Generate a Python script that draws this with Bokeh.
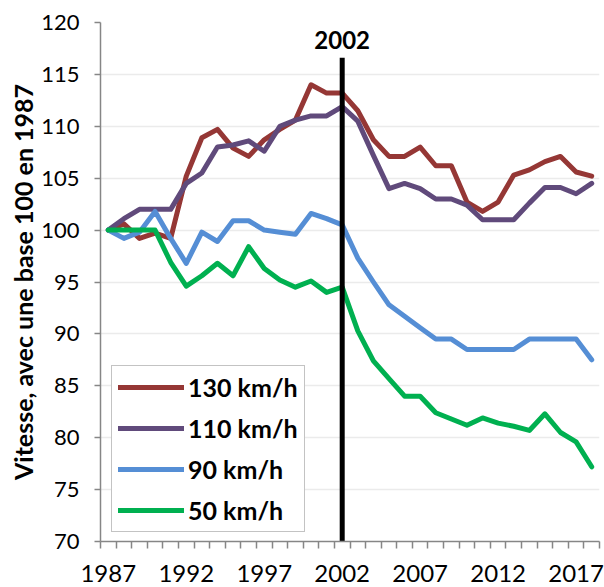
from bokeh.plotting import figure
from bokeh.models import FixedTicker, Range1d, Legend, LegendItem
from bokeh.core.properties import value
from bokeh.embed import file_html
from bokeh.resources import INLINE

years = list(range(1987, 2019))
v130 = [100, 100.6, 99.2, 99.7, 99.2, 105.2, 108.9, 109.7, 107.9, 107.1, 108.7, 109.7, 110.6, 114.0, 113.2, 113.2,
        111.5, 108.7, 107.1, 107.1, 108.0, 106.2, 106.2, 102.7, 101.8, 102.7, 105.3, 105.8, 106.6, 107.1, 105.6, 105.2]
v110 = [100, 101.1, 102, 102, 102, 104.5, 105.5, 108, 108.2, 108.6, 107.6, 110, 110.6, 111, 111, 111.9,
        110.5, 107.2, 104, 104.5, 104, 103, 103, 102.4, 101, 101, 101, 102.6, 104.1, 104.1, 103.5, 104.5]
v90 = [100, 99.2, 99.8, 101.8, 99.2, 96.8, 99.8, 98.9, 100.9, 100.9, 100, 99.8, 99.6, 101.6, 101.1, 100.5,
       97.3, 95, 92.8, 91.7, 90.6, 89.5, 89.5, 88.5, 88.5, 88.5, 88.5, 89.5, 89.5, 89.5, 89.5, 87.5]
v50 = [100, 100, 100, 100, 96.9, 94.6, 95.6, 96.8, 95.6, 98.4, 96.3, 95.2, 94.5, 95.1, 94, 94.5,
       90.3, 87.4, 85.7, 84, 84, 82.4, 81.8, 81.2, 81.9, 81.4, 81.1, 80.7, 82.3, 80.5, 79.6, 77.2]

series_names = ["130 km/h", "110 km/h", "90 km/h", "50 km/h"]
series_values = [v130, v110, v90, v50]
colors = ["#953735", "#604A7B", "#558ED5", "#00B050"]

x_label_years = [1987, 1992, 1997, 2002, 2007, 2012, 2017]
y_ticks = [70, 75, 80, 85, 90, 95, 100, 105, 110, 115, 120]
marker_year = 2002
marker_label = "2002"
marker_top = 116.6
marker_label_y = 118.3
y_title = "Vitesse, avec une base 100 en 1987"

FONT = "Lato"

p = figure(width=604, height=587, output_backend="svg", toolbar_location=None,
           x_range=Range1d(years[0] - 0.5, years[-1] + 0.5), y_range=Range1d(70, 120),
           min_border_left=100, min_border_right=5, min_border_top=22, min_border_bottom=46)
p.outline_line_color = None
p.background_fill_color = "white"
p.border_fill_color = "white"

# grid
p.xgrid.visible = False
p.ygrid.grid_line_color = "#ebebeb"
p.ygrid.grid_line_width = 1.5

# y axis
p.yaxis.ticker = FixedTicker(ticks=y_ticks)
p.yaxis.axis_line_color = "#868686"
p.yaxis.axis_line_width = 1.5
p.yaxis.major_tick_line_color = "#868686"
p.yaxis.major_tick_line_width = 1.5
p.yaxis.major_tick_out = 6
p.yaxis.major_tick_in = 0
p.yaxis.minor_tick_line_color = None
p.yaxis.major_label_standoff = 15
p.yaxis.major_label_text_font = FONT
p.yaxis.major_label_text_font_size = "22px"
p.yaxis.major_label_text_color = "black"
p.yaxis.axis_label = y_title
p.yaxis.axis_label_text_font = FONT
p.yaxis.axis_label_text_font_style = "bold"
p.yaxis.axis_label_text_font_size = "25px"
p.yaxis.axis_label_text_color = "black"
p.yaxis.axis_label_standoff = 0

# x axis
p.xaxis.ticker = FixedTicker(ticks=x_label_years, minor_ticks=[y - 0.5 for y in years] + [years[-1] + 0.5])
p.xaxis.axis_line_color = "#868686"
p.xaxis.axis_line_width = 1.5
p.xaxis.major_tick_out = 0
p.xaxis.major_tick_in = 0
p.xaxis.minor_tick_line_color = "#868686"
p.xaxis.minor_tick_line_width = 1.5
p.xaxis.minor_tick_out = 7
p.xaxis.minor_tick_in = 0
p.xaxis.major_label_standoff = 16
p.xaxis.major_label_text_font = FONT
p.xaxis.major_label_text_font_size = "24px"
p.xaxis.major_label_text_color = "black"

items = []
for name, vals, col in zip(series_names, series_values, colors):
    r = p.line(years, vals, line_color=col, line_width=5, line_join="round", line_cap="round")
    items.append(LegendItem(label=name, renderers=[r]))

# 2002 marker
p.segment(x0=[marker_year], y0=[70], x1=[marker_year], y1=[marker_top], line_color="black", line_width=5)
p.text(x=[marker_year], y=[marker_label_y], text=[marker_label], text_align="center",
       text_baseline="alphabetic", text_font=value(FONT), text_font_style="bold",
       text_font_size="24px", text_color="black")

legend = Legend(items=items, location=(11, 9))
legend.label_text_font = FONT
legend.label_text_font_style = "bold"
legend.label_text_font_size = "25px"
legend.label_text_color = "black"
legend.glyph_width = 66
legend.glyph_height = 20
legend.label_standoff = 4
legend.spacing = 11
legend.padding = 6
legend.border_line_color = "#888888"
legend.border_line_width = 1.5
legend.background_fill_color = "white"
legend.background_fill_alpha = 1
p.add_layout(legend, "center")

open("out.html", "w").write(file_html(p, INLINE))
